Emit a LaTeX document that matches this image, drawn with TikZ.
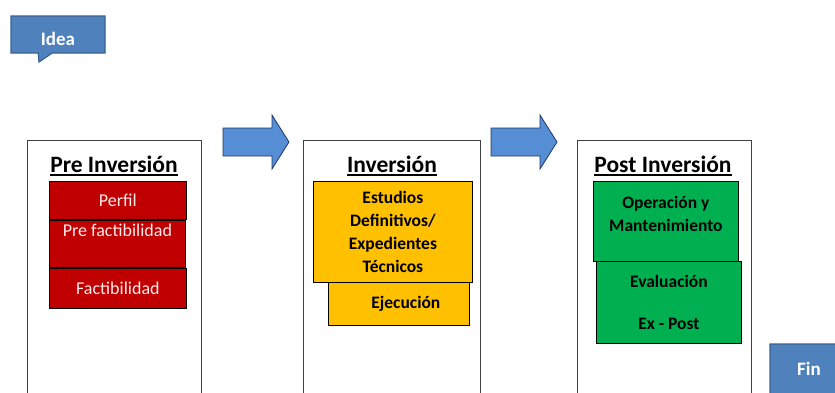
\documentclass[tikz,border=0pt]{standalone}
\usepackage{fontspec}
\setmainfont{Carlito}
\usetikzlibrary{positioning}
\usetikzlibrary{shapes.callouts}
\definecolor{markerblue}{HTML}{4F81BD}
\definecolor{markerline}{HTML}{3A6191}
\definecolor{arrowblue}{HTML}{558ED5}
\definecolor{arrowline}{HTML}{1F3864}
\definecolor{prered}{HTML}{C00000}
\definecolor{invyellow}{HTML}{FFC000}
\definecolor{postgreen}{HTML}{00B050}
% thick underline for the stage titles
\newcommand\stageul[1]{\setbox0\hbox{#1}\rlap{\rule[-3.5pt]{\wd0}{1.8pt}}\box0}
\tikzset {
  % start and end marker
  marker/.style = {
    rectangle callout,
    draw = markerline,
    fill = markerblue,
    line width = 1.2pt,
    callout pointer width = 14pt,
    text = white,
    font = \bfseries\fontsize{19}{22}\selectfont
  },
  % open frame of one stage
  panel/.style = {
    draw = black!75,
    line width = 1.1pt,
    rectangle,
    anchor = north west,
    minimum width = 174,
    minimum height = 300
  },
  % stage title
  title/.style = {
    font = \bfseries\fontsize{23.5}{26}\selectfont,
    inner sep = 1pt
  },
  % block arrow between stages
  stage arrow/.style = {
    draw = arrowline,
    fill = arrowblue,
    line width = 0.8pt,
    line join = miter
  },
  % boxes inside the stages
  stage box/.style = {
    draw = black,
    line width = 0.8pt,
    rectangle,
    anchor = north west,
    inner sep = 0
  },
  redbox/.style = {
    stage box,
    fill = prered,
    text = red!8,
    font = \fontsize{18}{21}\selectfont,
    minimum width = 137
  },
  yellowbox/.style = {
    stage box,
    fill = invyellow,
    font = \bfseries\fontsize{17.5}{22.7}\selectfont,
    align = center
  },
  greenbox/.style = {
    stage box,
    fill = postgreen,
    font = \bfseries\fontsize{17.5}{22.5}\selectfont,
    align = center,
    minimum width = 145
  }
}

\begin{document}
\begin{tikzpicture}[x = 1pt, y = -1pt]
  \useasboundingbox (0,0) rectangle (835,392);
  \clip (0,0) rectangle (835,392);

  % markers
  \node[marker, minimum width = 94, minimum height = 37,
    text height = 22pt, text depth = 0pt,
    callout absolute pointer = {(39,62)}] (idea) at (58,34.5) {Idea};
  \node[marker, minimum width = 78, minimum height = 50,
    callout absolute pointer = {(792,410)}] (fin) at (809,369) {Fin};

  % stage frames
  \node[panel] (pre) at (27,140) {};
  \node[panel, minimum width = 177] (inv) at (303,140) {};
  \node[panel] (post) at (577,140) {};

  \node[title] (pre-title) at (114,166) {\stageul{Pre Inversión}};
  \node[title] (inv-title) at (392,166) {\stageul{Inversión}};
  \node[title] (post-title) at (663,166) {\stageul{Post Inversión}};

  % pre inversion
  \node[redbox, minimum height = 38] (perfil) at (49,181) {Perfil};
  \node[redbox, minimum height = 47, minimum width = 136,
    label = {[text = red!8, font = \fontsize{18}{21}\selectfont,
      anchor = north, yshift = -1pt]north:Pre factibilidad}]
    (prefact) [below = 0pt of perfil.south west, anchor = north west] {};
  \node[redbox, minimum height = 40]
    (fact) [below = 0pt of prefact.south west, anchor = north west] {Factibilidad};

  % inversion
  \node[yellowbox, minimum width = 159, minimum height = 101] (estudios)
    at (313,181) {Estudios\\Definitivos/\\Expedientes\\Técnicos};
  \node[yellowbox, minimum width = 141, minimum height = 43] (ejec)
    at (328,282) {\hspace{14pt}Ejecución};

  % post inversion
  \node[greenbox, minimum height = 80,
    label = {[font = \bfseries\fontsize{17.5}{22.5}\selectfont, align = center,
      anchor = north, yshift = -12pt]north:Operación y\\Mantenimiento}]
    (oper) at (593,181) {};
  \node[greenbox, minimum height = 82] (eval)
    at (596,261) {Evaluación\\[20pt]Ex - Post};

  % arrows between stages
  \foreach \ax in {223,491} {
    \draw[stage arrow] (\ax,128) -- ++(49,0) -- ++(0,-13) -- ++(17,27)
      -- ++(-17,27) -- ++(0,-13) -- ++(-49,0) -- cycle;
  }
\end{tikzpicture}
\end{document}
